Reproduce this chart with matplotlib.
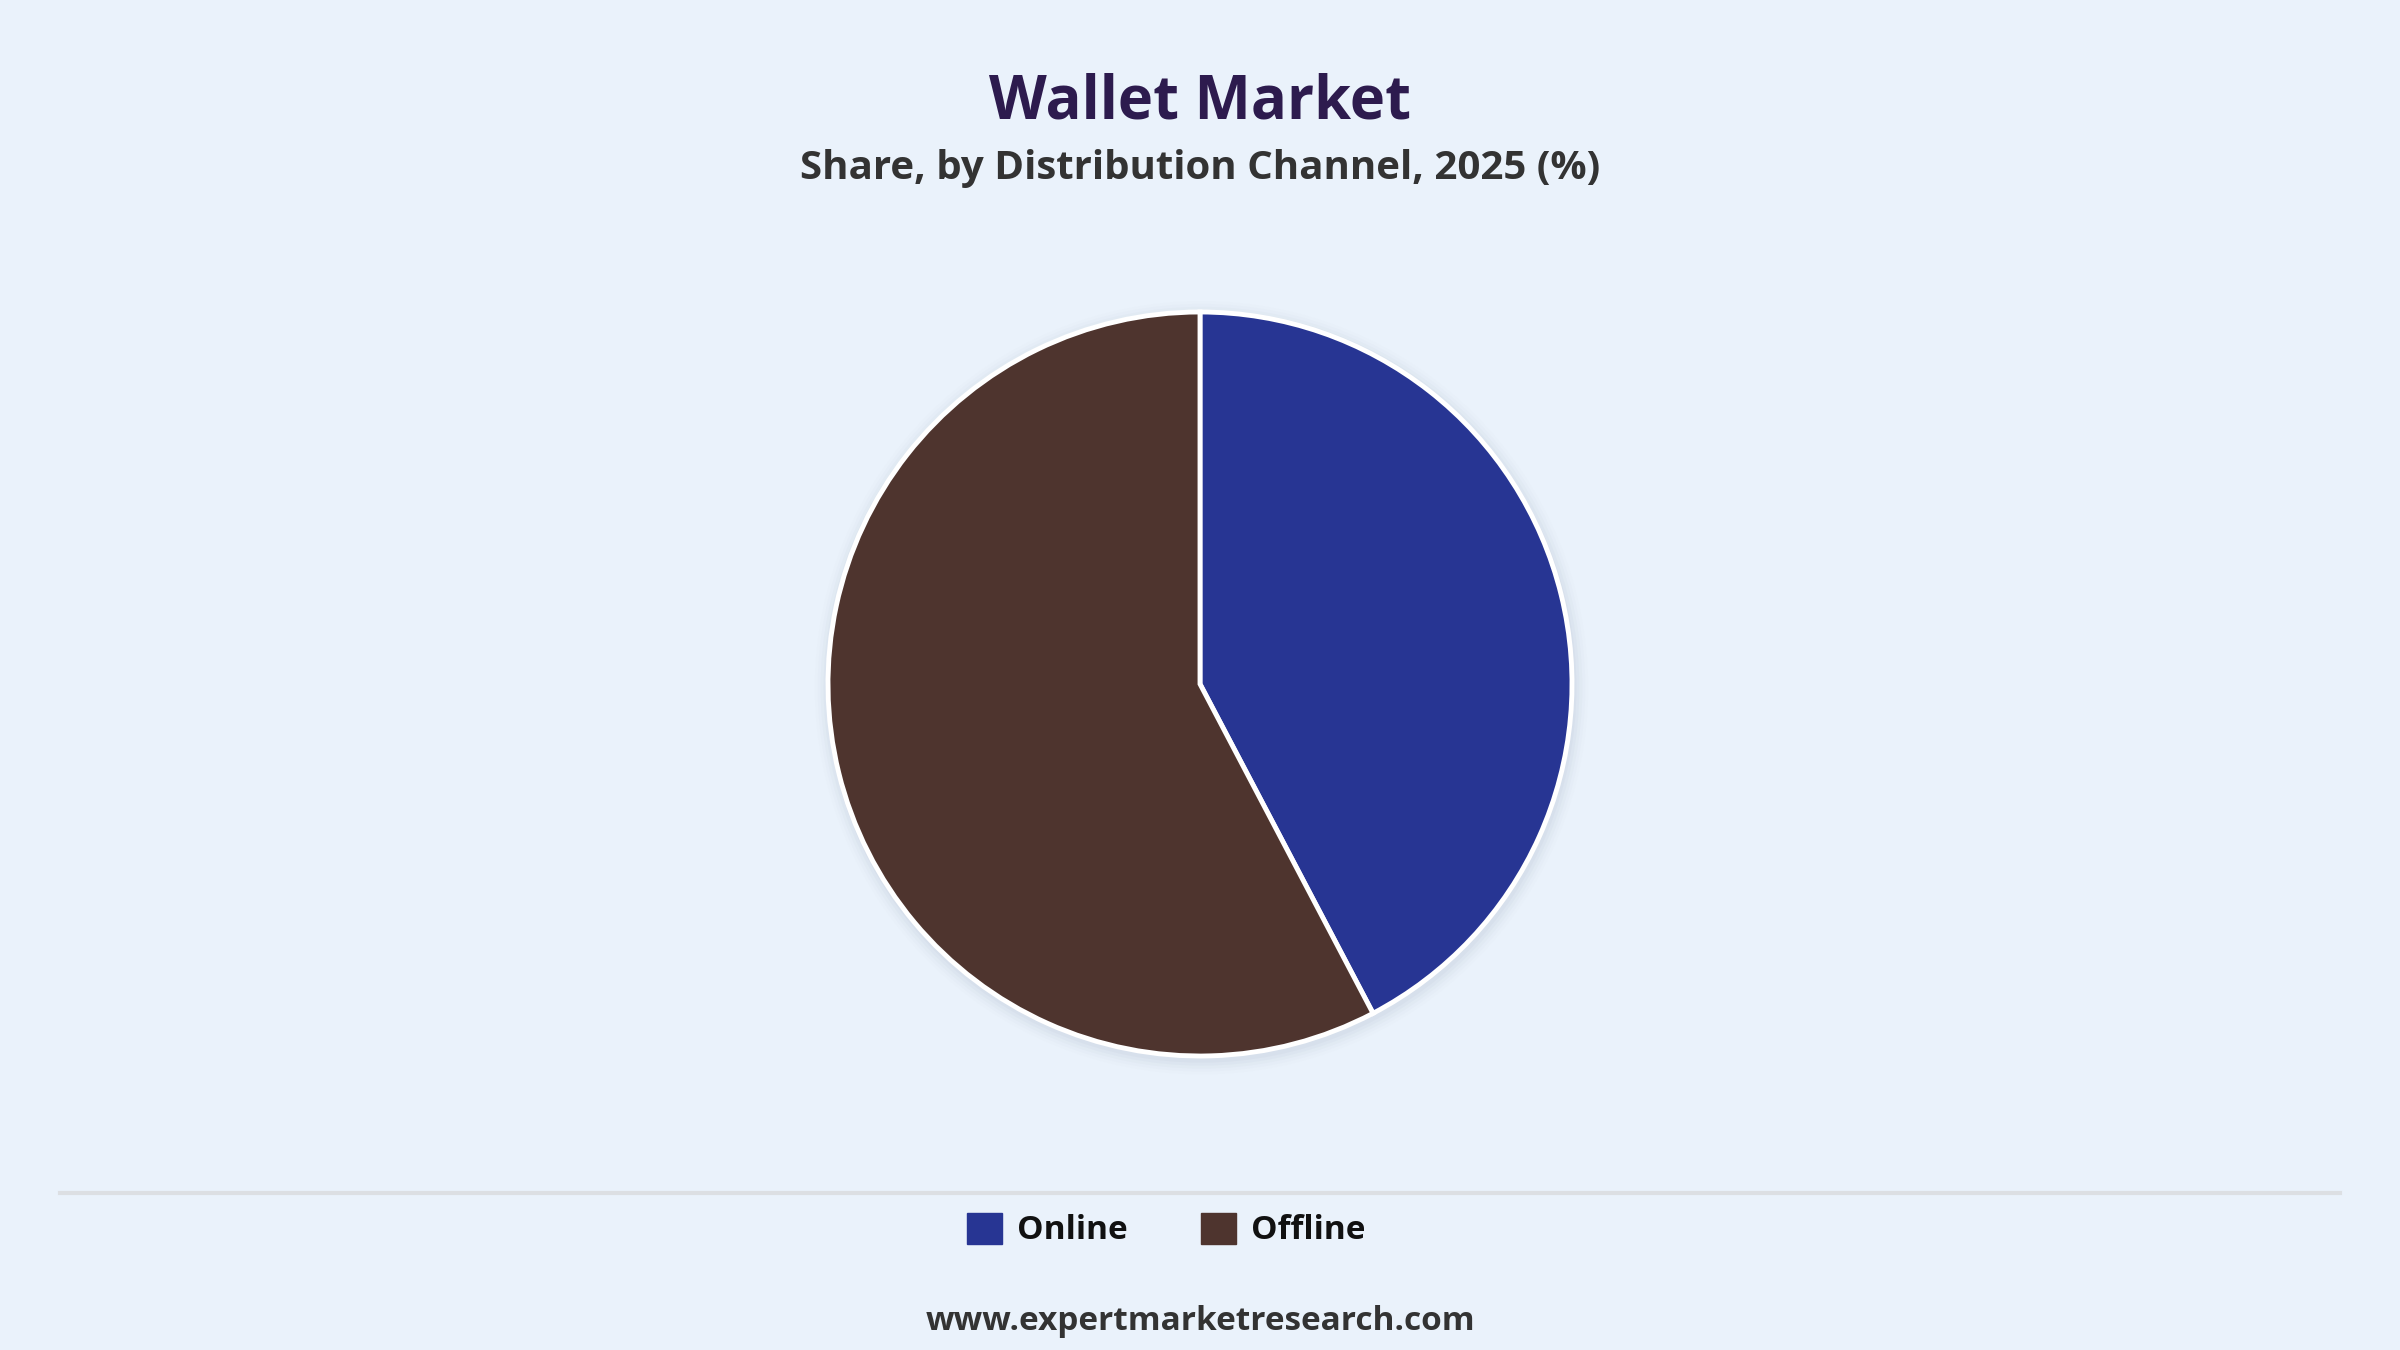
import matplotlib.pyplot as plt
from matplotlib.patches import Patch, Circle

# 데이터
labels = ['Online', 'Offline']
shares = [42.3, 57.7]
colors = ['#273593', '#4E342E']

bg = '#EAF2FB'
W, H = 2400, 1350

plt.rcParams['font.family'] = ['Open Sans', 'DejaVu Sans']

fig = plt.figure(figsize=(24, 13.5), dpi=100, facecolor=bg)

# 제목
fig.text(0.5, 1 - 103 / H, 'Wallet Market', ha='center', va='center',
         fontsize=43, fontweight='bold', color='#2D1B4E')
fig.text(0.5, 1 - 168 / H, 'Share, by Distribution Channel, 2025 (%)', ha='center', va='center',
         fontsize=29, fontweight='bold', color='#333333')

# 파이 차트 (중심 1200,684 / 반지름 372 px)
cx, cy, r = 1200, 684, 372
ax = fig.add_axes([(cx - r) / W, (H - cy - r) / H, 2 * r / W, 2 * r / H])
ax.set_facecolor(bg)

# 그림자
for i, a in enumerate([0.05, 0.04, 0.03, 0.02, 0.01]):
    ax.add_patch(Circle((0.004, -0.01), 1.0 + 0.008 * (i + 1), color='#7a8899', alpha=a,
                        lw=0, clip_on=False, zorder=0))

wedges, _ = ax.pie(shares, colors=colors, startangle=90, counterclock=False,
                   wedgeprops=dict(edgecolor='white', linewidth=3.5))
for w in wedges:
    w.set_zorder(2)
    w.set_clip_on(False)
ax.set_xlim(-1, 1)
ax.set_ylim(-1, 1)
ax.set_aspect('equal')
ax.axis('off')

# 구분선
fig.add_artist(plt.Line2D([60 / W, 2340 / W], [1 - 1193 / H, 1 - 1193 / H],
                          color='#DCDFE3', lw=3))

# 범례
handles = [Patch(facecolor=c, edgecolor=c, label=l) for c, l in zip(colors, labels)]
leg = fig.legend(handles=handles, loc='center', bbox_to_anchor=(0.486, 1 - 1230 / H),
                 ncol=2, frameon=False, fontsize=24, handlelength=1.05, handleheight=1.05,
                 handletextpad=0.45, columnspacing=2.2)
for t in leg.get_texts():
    t.set_fontweight('bold')
    t.set_color('#111111')

# 출처
fig.text(0.5, 1 - 1321 / H, 'www.expertmarketresearch.com', ha='center', va='center',
         fontsize=24, fontweight='bold', color='#333333')

fig.savefig('out.png', dpi=100, facecolor=bg)
